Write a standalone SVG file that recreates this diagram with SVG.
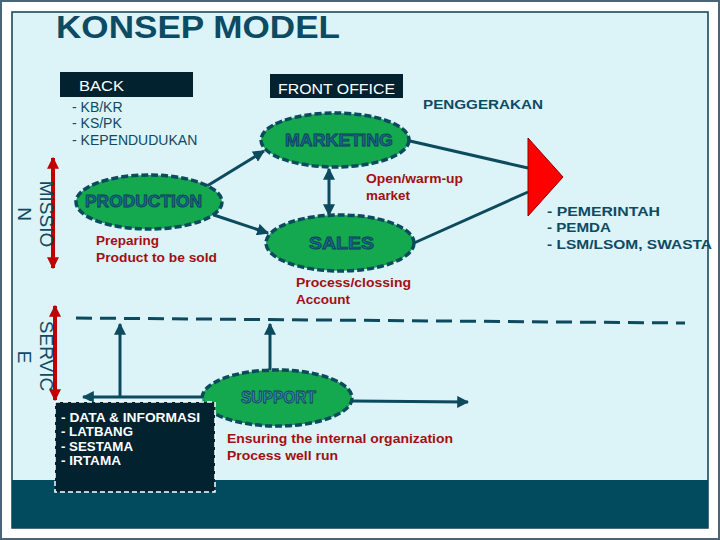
<svg xmlns="http://www.w3.org/2000/svg" width="720" height="540" viewBox="0 0 720 540">
<defs>
<style>
.t{font-family:"Liberation Sans",Arial,sans-serif;}
.teal{fill:#0e4a62;}
.red{fill:#a30f12;font-weight:bold;font-size:13.5px;}
.wh{fill:#ffffff;}
.ell{fill:#14a84f;stroke:#0c4a5e;stroke-width:3.5;stroke-dasharray:7 3;}
.elt{font-weight:900;font-size:16px;fill:#1a6a92;stroke:#0c3f55;stroke-width:0.8;}
.con{stroke:#0c4a5e;stroke-width:3;fill:none;}
.lst{font-weight:bold;font-size:13.5px;}
</style>
<marker id="ah" viewBox="0 0 10 10" refX="9" refY="5" markerWidth="4" markerHeight="4" orient="auto-start-reverse">
<path d="M0,0 L10,5 L0,10 z" fill="#0c4a5e"/>
</marker>
<marker id="rah" viewBox="0 0 10 10" refX="9" refY="5" markerWidth="3" markerHeight="3.4" orient="auto-start-reverse">
<path d="M0,0 L10,5 L0,10 z" fill="#c00000"/>
</marker>
</defs>

<rect x="0" y="0" width="720" height="540" fill="#ffffff"/>
<rect x="1" y="1" width="718" height="538" fill="none" stroke="#4a6478" stroke-width="2"/>
<rect x="12" y="12" width="696" height="516" fill="#dcf3f8" stroke="#0c3f52" stroke-width="1.5"/>
<rect x="12" y="480" width="696" height="48" fill="#024a5e"/>

<text class="t" x="56" y="38" font-size="31" font-weight="bold" fill="#0d4a64" textLength="284" lengthAdjust="spacingAndGlyphs">KONSEP MODEL</text>

<g id="connectors">
<line class="con" x1="207" y1="186" x2="264" y2="151" marker-end="url(#ah)"/>
<line class="con" x1="214" y1="215" x2="268" y2="233" marker-end="url(#ah)"/>
<line class="con" x1="329" y1="169" x2="329" y2="215" marker-start="url(#ah)" marker-end="url(#ah)"/>
<line class="con" x1="410" y1="141" x2="528" y2="168"/>
<line class="con" x1="414" y1="243" x2="528" y2="192"/>
<path d="M76,318 L685,323" stroke="#0c4a5e" stroke-width="3" stroke-dasharray="16 8" fill="none"/>
<line class="con" x1="120" y1="397" x2="120" y2="324" stroke-width="2.5" marker-end="url(#ah)"/>
<line class="con" x1="270" y1="370" x2="270" y2="324" marker-end="url(#ah)"/>
<line class="con" x1="202" y1="397" x2="83" y2="397" marker-end="url(#ah)"/>
<line class="con" x1="352" y1="401" x2="468" y2="402" marker-end="url(#ah)"/>
<line x1="53" y1="158" x2="53" y2="268" stroke="#c00000" stroke-width="4" marker-start="url(#rah)" marker-end="url(#rah)"/>
<line x1="55" y1="306" x2="55" y2="400" stroke="#c00000" stroke-width="4" marker-start="url(#rah)" marker-end="url(#rah)"/>
</g>

<g id="back">
<rect x="60" y="72" width="133" height="25" fill="#02222f"/>
<text class="t wh" x="79" y="91" font-size="15" textLength="45" lengthAdjust="spacingAndGlyphs">BACK</text>
<text class="t teal" font-size="14"><tspan x="72" y="112">- KB/KR</tspan><tspan x="72" y="128">- KS/PK</tspan><tspan x="72" y="145">- KEPENDUDUKAN</tspan></text>
</g>

<g id="front-office">
<rect x="270" y="74" width="133" height="24" fill="#02222f"/>
<text class="t wh" x="278" y="94" font-size="15" textLength="117" lengthAdjust="spacingAndGlyphs">FRONT OFFICE</text>
</g>

<g id="penggerakan">
<text class="t teal" x="423" y="109" font-size="13.5" font-weight="bold" textLength="120" lengthAdjust="spacingAndGlyphs">PENGGERAKAN</text>
</g>

<g id="marketing">
<ellipse class="ell" cx="335" cy="140" rx="74" ry="27"/>
<text class="t elt" x="285" y="146" textLength="108" lengthAdjust="spacingAndGlyphs">MARKETING</text>
<text class="t red"><tspan x="366" y="183" textLength="97" lengthAdjust="spacingAndGlyphs">Open/warm-up</tspan><tspan x="366" y="200" textLength="44" lengthAdjust="spacingAndGlyphs">market</tspan></text>
</g>

<g id="sales">
<ellipse class="ell" cx="340" cy="243" rx="74" ry="28"/>
<text class="t elt" x="309" y="249" textLength="65" lengthAdjust="spacingAndGlyphs">SALES</text>
<text class="t red"><tspan x="296" y="287" textLength="115" lengthAdjust="spacingAndGlyphs">Process/clossing</tspan><tspan x="296" y="304" textLength="54" lengthAdjust="spacingAndGlyphs">Account</tspan></text>
</g>

<g id="production">
<ellipse class="ell" cx="149" cy="202" rx="73" ry="27"/>
<text class="t elt" x="85" y="207" textLength="117" lengthAdjust="spacingAndGlyphs">PRODUCTION</text>
<text class="t red"><tspan x="96" y="245" textLength="63" lengthAdjust="spacingAndGlyphs">Preparing</tspan><tspan x="96" y="262" textLength="121" lengthAdjust="spacingAndGlyphs">Product to be sold</tspan></text>
</g>

<g id="target">
<polygon points="528,138 563,177 528,216" fill="#ff0000" stroke="#8a0000" stroke-width="1"/>
<text class="t teal lst"><tspan x="547" y="216" textLength="113" lengthAdjust="spacingAndGlyphs">- PEMERINTAH</tspan><tspan x="547" y="232" textLength="64" lengthAdjust="spacingAndGlyphs">- PEMDA</tspan><tspan x="547" y="249" textLength="165" lengthAdjust="spacingAndGlyphs">- LSM/LSOM, SWASTA</tspan></text>
</g>

<g id="mission">
<text class="t teal" font-size="19" text-anchor="middle" transform="translate(40,214) rotate(90)"><tspan x="0" y="0">MISSIO</tspan></text>
<text class="t teal" font-size="19" text-anchor="middle" transform="translate(18,214) rotate(90)"><tspan x="0" y="0">N</tspan></text>
</g>

<g id="service">
<text class="t teal" font-size="19" text-anchor="middle" transform="translate(40,356) rotate(90)"><tspan x="0" y="0">SERVIC</tspan></text>
<text class="t teal" font-size="19" text-anchor="middle" transform="translate(18,357) rotate(90)"><tspan x="0" y="0">E</tspan></text>
</g>

<g id="support">
<ellipse class="ell" cx="277" cy="398" rx="75" ry="28"/>
<text class="t elt" x="241" y="403" textLength="75" lengthAdjust="spacingAndGlyphs" style="fill:#3d85b0;stroke:#0c3f55">SUPPORT</text>
<text class="t red"><tspan x="227" y="443" textLength="226" lengthAdjust="spacingAndGlyphs">Ensuring the internal organization</tspan><tspan x="227" y="460" textLength="111" lengthAdjust="spacingAndGlyphs">Process well run</tspan></text>
</g>

<g id="staff">
<rect x="55" y="402" width="160" height="90" fill="#02222f" stroke="#ffffff" stroke-width="1.5" stroke-dasharray="5 3"/>
<text class="t wh" font-size="12.5" font-weight="bold"><tspan x="61" y="422" textLength="139" lengthAdjust="spacingAndGlyphs">- DATA &amp; INFORMASI</tspan><tspan x="61" y="436" textLength="72" lengthAdjust="spacingAndGlyphs">- LATBANG</tspan><tspan x="61" y="451" textLength="72" lengthAdjust="spacingAndGlyphs">- SESTAMA</tspan><tspan x="61" y="465" textLength="60" lengthAdjust="spacingAndGlyphs">- IRTAMA</tspan></text>
</g>
</svg>
